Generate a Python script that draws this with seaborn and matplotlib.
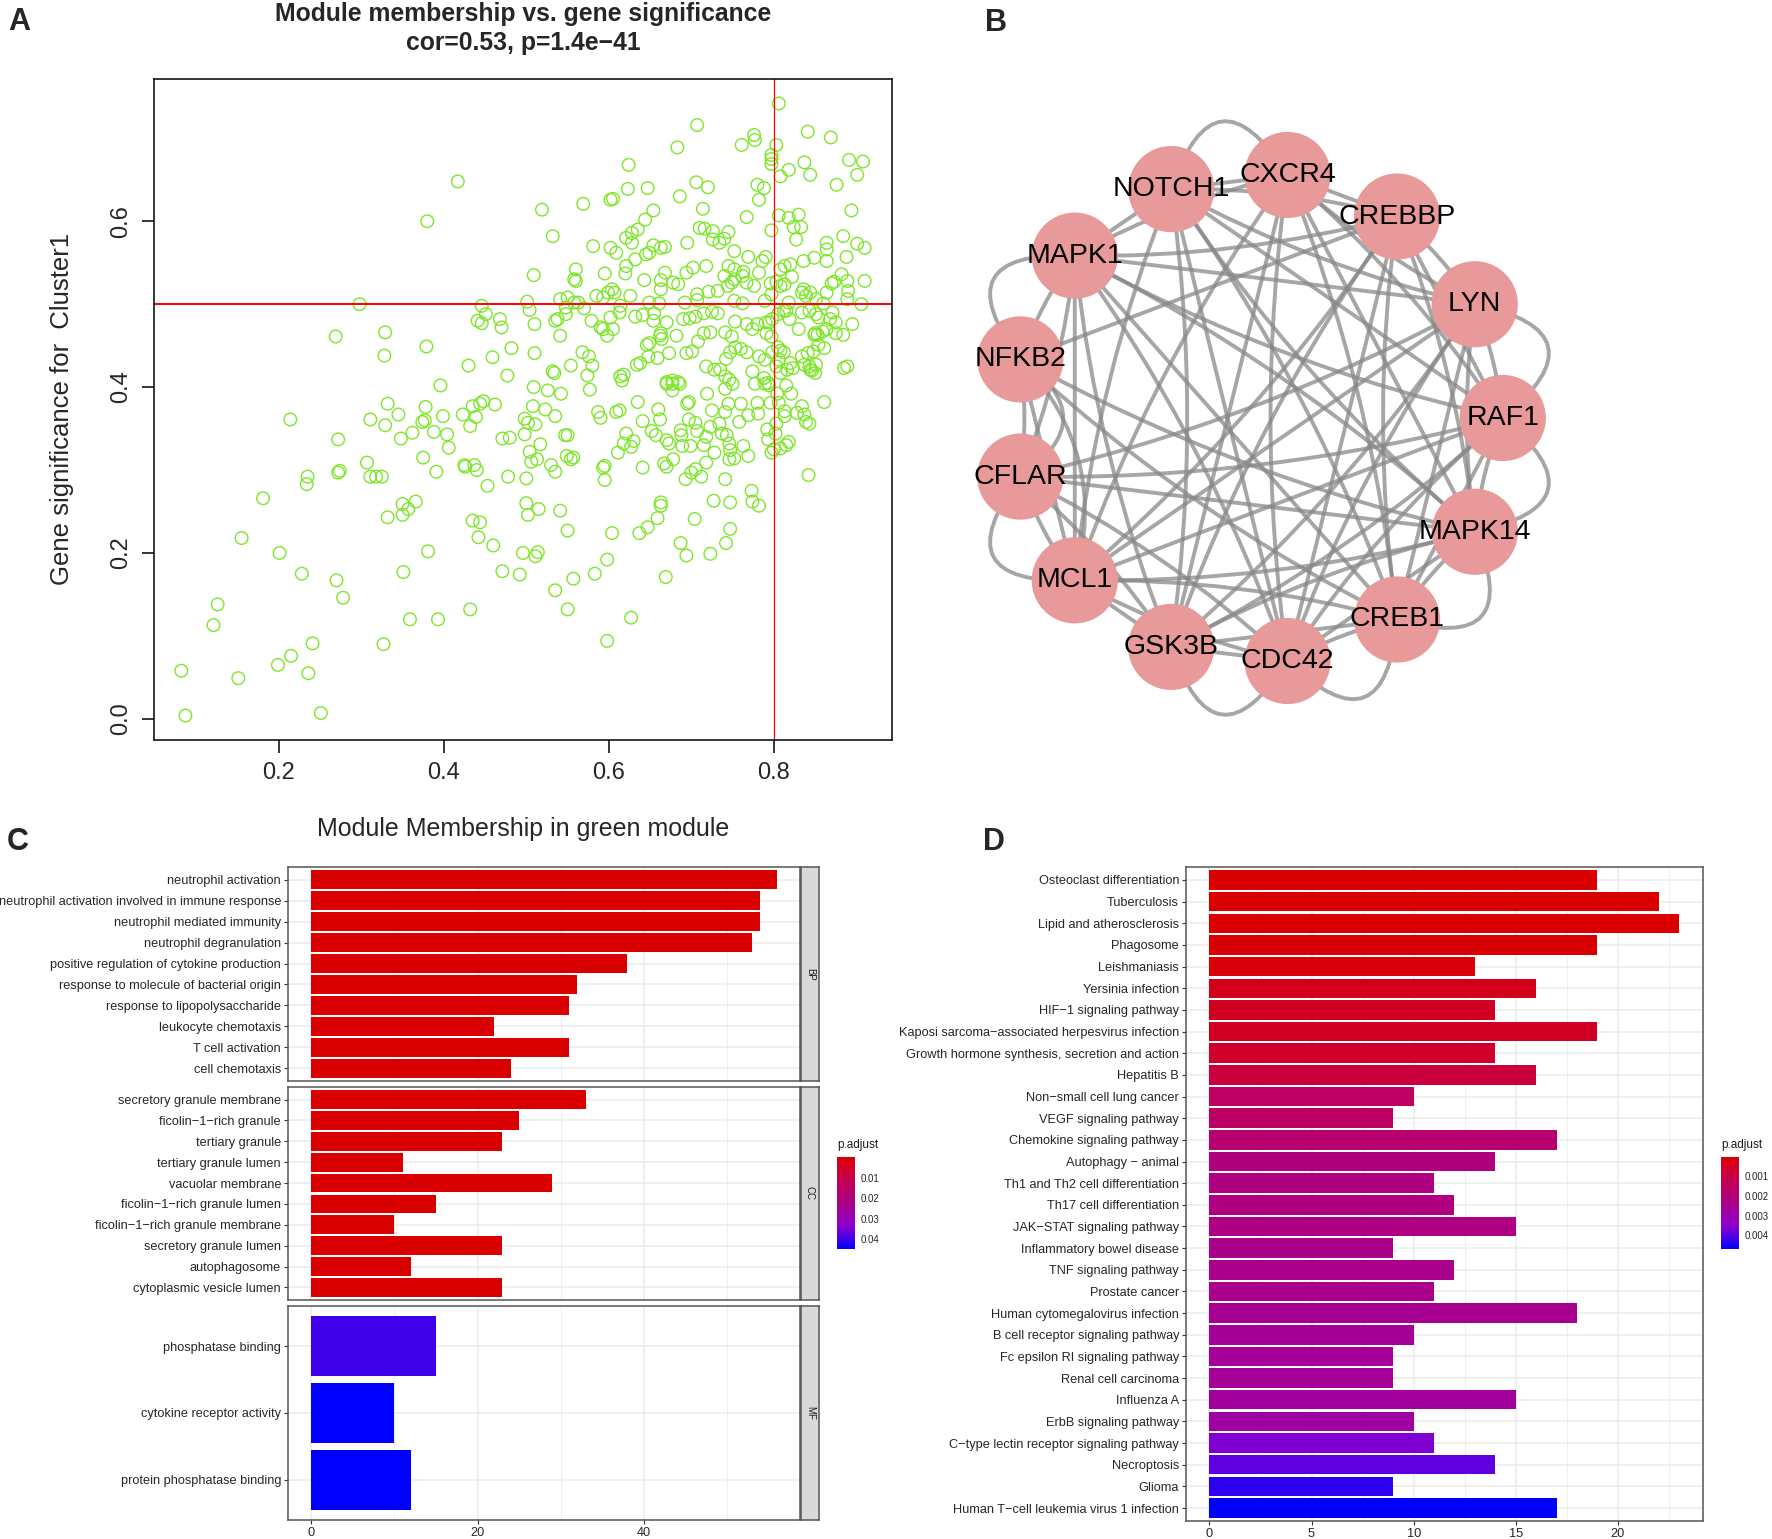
import numpy as np
import pandas as pd
import matplotlib
matplotlib.use("Agg")
import matplotlib.pyplot as plt
import seaborn as sns
from matplotlib.patches import Circle, PathPatch
from matplotlib.path import Path
from matplotlib.colors import LinearSegmentedColormap, Normalize
from matplotlib.cm import ScalarMappable
from matplotlib.ticker import MultipleLocator

sns.set_theme(style="white")
plt.rcParams['font.family'] = ['Liberation Sans', 'DejaVu Sans']

# ---------------- A: module membership vs gene significance ----------------
pts_low = [
    (0.082, 0.058), (0.087, 0.004), (0.151, 0.049), (0.121, 0.113), (0.126, 0.138), (0.155, 0.218),
    (0.181, 0.266), (0.201, 0.200), (0.199, 0.065), (0.215, 0.076), (0.214, 0.361), (0.228, 0.175),
    (0.241, 0.091), (0.236, 0.055), (0.251, 0.007), (0.235, 0.292), (0.234, 0.283), (0.272, 0.337),
    (0.270, 0.167), (0.278, 0.146), (0.272, 0.297), (0.274, 0.299), (0.307, 0.309), (0.311, 0.361),
    (0.311, 0.292), (0.318, 0.292), (0.325, 0.292), (0.329, 0.354), (0.332, 0.380), (0.332, 0.243),
    (0.327, 0.090), (0.345, 0.367), (0.348, 0.338), (0.350, 0.259), (0.350, 0.246), (0.357, 0.253),
    (0.351, 0.177), (0.359, 0.120), (0.362, 0.345), (0.366, 0.262), (0.374, 0.358), (0.377, 0.360),
    (0.375, 0.315), (0.378, 0.376), (0.381, 0.202), (0.388, 0.346), (0.391, 0.298), (0.393, 0.120),
    (0.396, 0.402), (0.399, 0.365), (0.404, 0.343), (0.406, 0.327), (0.423, 0.367), (0.425, 0.306),
    (0.426, 0.304), (0.432, 0.353), (0.432, 0.132), (0.435, 0.377), (0.439, 0.364), (0.437, 0.306),
    (0.440, 0.300), (0.435, 0.239), (0.444, 0.237), (0.442, 0.219), (0.444, 0.380), (0.448, 0.383),
    (0.453, 0.281), (0.460, 0.209), (0.462, 0.379), (0.471, 0.338), (0.480, 0.339), (0.478, 0.292),
    (0.471, 0.178), (0.492, 0.174), (0.496, 0.200), (0.498, 0.362), (0.498, 0.343), (0.502, 0.357),
    (0.500, 0.290), (0.500, 0.260), (0.502, 0.246), (0.504, 0.322), (0.506, 0.310), (0.509, 0.400),
    (0.508, 0.377), (0.511, 0.355), (0.513, 0.313), (0.511, 0.196), (0.514, 0.201), (0.515, 0.253),
    (0.517, 0.331), (0.523, 0.373), (0.526, 0.396), (0.530, 0.306), (0.535, 0.155), (0.535, 0.365),
    (0.535, 0.298), (0.541, 0.251), (0.542, 0.392), (0.547, 0.342), (0.550, 0.342), (0.549, 0.317),
    (0.554, 0.313), (0.550, 0.227), (0.550, 0.132), (0.557, 0.315), (0.557, 0.169), (0.577, 0.397),
    (0.583, 0.175), (0.587, 0.370), (0.590, 0.363), (0.593, 0.303), (0.595, 0.305), (0.595, 0.288),
    (0.598, 0.192), (0.598, 0.094), (0.604, 0.224), (0.611, 0.321), (0.613, 0.372), (0.609, 0.370),
    (0.616, 0.408), (0.618, 0.332), (0.621, 0.344), (0.627, 0.328), (0.630, 0.335), (0.627, 0.122),
    (0.635, 0.382), (0.637, 0.224), (0.647, 0.231), (0.641, 0.359), (0.641, 0.303), (0.652, 0.347),
    (0.657, 0.342), (0.659, 0.242), (0.660, 0.373), (0.662, 0.361), (0.663, 0.261), (0.663, 0.257),
    (0.667, 0.308), (0.670, 0.304), (0.669, 0.171), (0.670, 0.336), (0.673, 0.332), (0.670, 0.404),
    (0.677, 0.404), (0.686, 0.404), (0.677, 0.396), (0.678, 0.313), (0.687, 0.348), (0.688, 0.342),
    (0.687, 0.212), (0.689, 0.329), (0.693, 0.289), (0.694, 0.197), (0.695, 0.380), (0.697, 0.382),
    (0.697, 0.361), (0.699, 0.329), (0.700, 0.297), (0.705, 0.301), (0.705, 0.357), (0.707, 0.347),
    (0.704, 0.241), (0.712, 0.292), (0.715, 0.330), (0.718, 0.340), (0.718, 0.309), (0.719, 0.392),
    (0.723, 0.352), (0.723, 0.199), (0.725, 0.372), (0.728, 0.321), (0.727, 0.263), (0.734, 0.356),
    (0.737, 0.344), (0.743, 0.342), (0.741, 0.398), (0.741, 0.289), (0.741, 0.370), (0.742, 0.212),
    (0.745, 0.380), (0.746, 0.332), (0.747, 0.324), (0.746, 0.313), (0.752, 0.314), (0.747, 0.261),
    (0.747, 0.229), (0.750, 0.404), (0.758, 0.358), (0.760, 0.380), (0.763, 0.329), (0.769, 0.317),
    (0.769, 0.366), (0.773, 0.275), (0.774, 0.262), (0.777, 0.404), (0.780, 0.381), (0.781, 0.368),
    (0.782, 0.257), (0.789, 0.404), (0.792, 0.349), (0.793, 0.337), (0.796, 0.381), (0.794, 0.402),
    (0.797, 0.321), (0.800, 0.325), (0.802, 0.344), (0.804, 0.392), (0.806, 0.381), (0.803, 0.356),
    (0.808, 0.326), (0.813, 0.371), (0.813, 0.365), (0.815, 0.330), (0.818, 0.334), (0.815, 0.402),
    (0.821, 0.392), (0.828, 0.369), (0.834, 0.377), (0.837, 0.367), (0.839, 0.358), (0.843, 0.356),
    (0.842, 0.294), (0.861, 0.382),
]
pts_mid = [
    (0.504, 0.493), (0.510, 0.476), (0.535, 0.480), (0.538, 0.482), (0.548, 0.488), (0.570, 0.495),
    (0.579, 0.480), (0.593, 0.470), (0.590, 0.472), (0.602, 0.484), (0.613, 0.490), (0.632, 0.485),
    (0.641, 0.487), (0.655, 0.489), (0.654, 0.480), (0.670, 0.478), (0.662, 0.462), (0.664, 0.458),
    (0.690, 0.482), (0.698, 0.483), (0.705, 0.485), (0.715, 0.489), (0.725, 0.491), (0.732, 0.489),
    (0.723, 0.466), (0.741, 0.466), (0.749, 0.461), (0.753, 0.479), (0.767, 0.476), (0.774, 0.470),
    (0.780, 0.476), (0.790, 0.478), (0.794, 0.478), (0.798, 0.482), (0.805, 0.488), (0.812, 0.492),
    (0.815, 0.492), (0.791, 0.465), (0.797, 0.461), (0.830, 0.470), (0.819, 0.482), (0.834, 0.490),
    (0.843, 0.492), (0.851, 0.488), (0.854, 0.484), (0.875, 0.478), (0.868, 0.482), (0.871, 0.490),
    (0.850, 0.465), (0.853, 0.463), (0.859, 0.467), (0.864, 0.470), (0.849, 0.463), (0.875, 0.465),
    (0.884, 0.463), (0.895, 0.476), (0.441, 0.480), (0.446, 0.477), (0.451, 0.488), (0.468, 0.482),
    (0.470, 0.472), (0.269, 0.461), (0.329, 0.466), (0.328, 0.438), (0.379, 0.449), (0.430, 0.426),
    (0.459, 0.436), (0.482, 0.447), (0.477, 0.414), (0.510, 0.441), (0.532, 0.419), (0.534, 0.417),
    (0.541, 0.462), (0.554, 0.426), (0.568, 0.442), (0.576, 0.437), (0.580, 0.426), (0.574, 0.414),
    (0.598, 0.462), (0.605, 0.470), (0.614, 0.413), (0.618, 0.415), (0.634, 0.427), (0.638, 0.429),
    (0.646, 0.451), (0.649, 0.453), (0.648, 0.437), (0.659, 0.435), (0.663, 0.465), (0.670, 0.406),
    (0.677, 0.408), (0.684, 0.406), (0.673, 0.441), (0.682, 0.462), (0.694, 0.441), (0.701, 0.443),
    (0.708, 0.455), (0.715, 0.465), (0.718, 0.425), (0.728, 0.421), (0.735, 0.421), (0.742, 0.434),
    (0.747, 0.442), (0.753, 0.448), (0.741, 0.413), (0.746, 0.409), (0.760, 0.446), (0.767, 0.442),
    (0.774, 0.419), (0.782, 0.437), (0.789, 0.433), (0.788, 0.411), (0.793, 0.405), (0.798, 0.442),
    (0.805, 0.448), (0.808, 0.444), (0.812, 0.442), (0.803, 0.425), (0.808, 0.417), (0.806, 0.433),
    (0.816, 0.421), (0.823, 0.423), (0.820, 0.429), (0.834, 0.437), (0.841, 0.441), (0.848, 0.443),
    (0.851, 0.427), (0.844, 0.421), (0.850, 0.417), (0.854, 0.451), (0.861, 0.447), (0.837, 0.427),
    (0.846, 0.420), (0.843, 0.425), (0.885, 0.423), (0.889, 0.425),
]
pts_high = [
    (0.806, 0.742), (0.707, 0.716), (0.841, 0.708), (0.869, 0.701), (0.776, 0.704), (0.777, 0.698),
    (0.761, 0.692), (0.803, 0.692), (0.683, 0.689), (0.797, 0.680), (0.797, 0.675), (0.797, 0.669),
    (0.837, 0.671), (0.891, 0.674), (0.908, 0.672), (0.624, 0.668), (0.818, 0.662), (0.808, 0.654),
    (0.844, 0.656), (0.901, 0.656), (0.417, 0.648), (0.706, 0.647), (0.720, 0.641), (0.780, 0.644),
    (0.788, 0.640), (0.876, 0.644), (0.623, 0.639), (0.647, 0.640), (0.686, 0.630), (0.782, 0.626),
    (0.602, 0.626), (0.605, 0.627), (0.569, 0.621), (0.519, 0.614), (0.654, 0.613), (0.714, 0.615),
    (0.894, 0.613), (0.767, 0.605), (0.806, 0.607), (0.818, 0.604), (0.830, 0.608), (0.380, 0.600),
    (0.644, 0.602), (0.824, 0.593), (0.833, 0.593), (0.710, 0.592), (0.716, 0.591), (0.726, 0.588),
    (0.745, 0.587), (0.621, 0.580), (0.628, 0.586), (0.635, 0.590), (0.797, 0.589), (0.884, 0.582),
    (0.532, 0.582), (0.695, 0.574), (0.726, 0.578), (0.740, 0.579), (0.734, 0.574), (0.581, 0.570),
    (0.602, 0.568), (0.609, 0.562), (0.628, 0.574), (0.654, 0.571), (0.663, 0.568), (0.668, 0.569),
    (0.752, 0.564), (0.864, 0.574), (0.864, 0.566), (0.901, 0.573), (0.910, 0.568), (0.827, 0.578),
    (0.769, 0.557), (0.849, 0.556), (0.888, 0.557), (0.864, 0.552), (0.790, 0.557), (0.786, 0.552),
    (0.836, 0.552), (0.632, 0.554), (0.645, 0.560), (0.649, 0.562), (0.621, 0.546), (0.620, 0.537),
    (0.702, 0.544), (0.718, 0.546), (0.745, 0.546), (0.752, 0.542), (0.808, 0.542), (0.813, 0.546),
    (0.820, 0.548), (0.560, 0.542), (0.668, 0.538), (0.694, 0.538), (0.763, 0.539), (0.595, 0.537),
    (0.509, 0.535), (0.882, 0.536), (0.910, 0.528), (0.889, 0.528), (0.782, 0.538), (0.822, 0.533),
    (0.558, 0.530), (0.560, 0.528), (0.643, 0.529), (0.663, 0.529), (0.678, 0.526), (0.684, 0.524),
    (0.740, 0.534), (0.752, 0.530), (0.749, 0.526), (0.744, 0.522), (0.762, 0.534), (0.767, 0.526),
    (0.776, 0.522), (0.796, 0.525), (0.803, 0.527), (0.870, 0.525), (0.873, 0.527), (0.836, 0.518),
    (0.844, 0.514), (0.864, 0.514), (0.890, 0.516), (0.604, 0.518), (0.599, 0.514), (0.607, 0.514),
    (0.585, 0.510), (0.626, 0.510), (0.593, 0.508), (0.663, 0.518), (0.721, 0.515), (0.732, 0.516),
    (0.707, 0.512), (0.692, 0.502), (0.707, 0.505), (0.797, 0.512), (0.808, 0.522), (0.813, 0.524),
    (0.834, 0.514), (0.839, 0.510), (0.851, 0.506), (0.889, 0.506), (0.906, 0.500), (0.541, 0.506),
    (0.550, 0.508), (0.558, 0.502), (0.563, 0.502), (0.548, 0.496), (0.501, 0.503), (0.446, 0.498),
    (0.298, 0.500), (0.649, 0.502), (0.661, 0.501), (0.614, 0.498), (0.752, 0.504), (0.762, 0.501),
    (0.789, 0.504), (0.818, 0.502), (0.860, 0.501),
]

# ---------------- B: PPI network ----------------
genes = ["RAF1", "LYN", "CREBBP", "CXCR4", "NOTCH1", "MAPK1", "NFKB2",
         "CFLAR", "MCL1", "GSK3B", "CDC42", "CREB1", "MAPK14"]
edges = [
    ("MAPK1", "NOTCH1"), ("MAPK1", "CXCR4"), ("MAPK1", "CREBBP"), ("MAPK1", "LYN"), ("MAPK1", "RAF1"),
    ("MAPK1", "MAPK14"), ("MAPK1", "CREB1"), ("MAPK1", "CDC42"), ("MAPK1", "GSK3B"), ("MAPK1", "MCL1"),
    ("MAPK1", "NFKB2"), ("MAPK1", "CFLAR"),
    ("NOTCH1", "CXCR4"), ("NOTCH1", "CREBBP"), ("NOTCH1", "LYN"), ("NOTCH1", "RAF1"), ("NOTCH1", "MAPK14"),
    ("NOTCH1", "CREB1"), ("NOTCH1", "CDC42"), ("NOTCH1", "GSK3B"), ("NOTCH1", "MCL1"),
    ("CXCR4", "CREBBP"), ("CXCR4", "LYN"), ("CXCR4", "RAF1"), ("CXCR4", "MAPK14"), ("CXCR4", "CREB1"),
    ("CXCR4", "CDC42"), ("CXCR4", "GSK3B"), ("CXCR4", "MCL1"),
    ("CREBBP", "LYN"), ("CREBBP", "RAF1"), ("CREBBP", "MAPK14"), ("CREBBP", "CREB1"), ("CREBBP", "CDC42"),
    ("CREBBP", "GSK3B"), ("CREBBP", "MCL1"), ("CREBBP", "NFKB2"),
    ("LYN", "RAF1"), ("LYN", "MAPK14"), ("LYN", "CREB1"), ("LYN", "CDC42"), ("LYN", "GSK3B"), ("LYN", "MCL1"),
    ("LYN", "CFLAR"),
    ("RAF1", "MAPK14"), ("RAF1", "CREB1"), ("RAF1", "CDC42"), ("RAF1", "GSK3B"), ("RAF1", "MCL1"),
    ("RAF1", "CFLAR"),
    ("MAPK14", "CREB1"), ("MAPK14", "CDC42"), ("MAPK14", "GSK3B"), ("MAPK14", "MCL1"), ("MAPK14", "CFLAR"),
    ("MAPK14", "NFKB2"),
    ("CREB1", "CDC42"), ("CREB1", "GSK3B"), ("CREB1", "MCL1"), ("CREB1", "NFKB2"),
    ("CDC42", "GSK3B"), ("CDC42", "MCL1"), ("CDC42", "CFLAR"), ("GSK3B", "MCL1"), ("GSK3B", "CFLAR"),
    ("MCL1", "CFLAR"), ("MCL1", "NFKB2"), ("NFKB2", "CFLAR"),
]
arcs_out = [("NOTCH1", "CXCR4"), ("MAPK1", "NFKB2"), ("CFLAR", "MCL1"), ("LYN", "RAF1"),
            ("RAF1", "MAPK14"), ("MAPK14", "CREB1"), ("GSK3B", "CDC42"), ("CDC42", "CREB1")]
arcs_in = [("NFKB2", "CFLAR"), ("NFKB2", "MCL1")]

# ---------------- C: GO enrichment ----------------
bp_terms = ["neutrophil activation", "neutrophil activation involved in immune response",
            "neutrophil mediated immunity", "neutrophil degranulation",
            "positive regulation of cytokine production", "response to molecule of bacterial origin",
            "response to lipopolysaccharide", "leukocyte chemotaxis", "T cell activation", "cell chemotaxis"]
bp_count = [56, 54, 54, 53, 38, 32, 31, 22, 31, 24]
bp_padj = [2e-9, 3e-9, 3e-9, 3.5e-9, 1.5e-8, 4e-8, 5e-8, 6e-7, 8e-7, 9e-7]
cc_terms = ["secretory granule membrane", "ficolin\u22121\u2212rich granule", "tertiary granule",
            "tertiary granule lumen", "vacuolar membrane", "ficolin\u22121\u2212rich granule lumen",
            "ficolin\u22121\u2212rich granule membrane", "secretory granule lumen", "autophagosome",
            "cytoplasmic vesicle lumen"]
cc_count = [33, 25, 23, 11, 29, 15, 10, 23, 12, 23]
cc_padj = [1e-6, 2e-6, 5e-6, 1e-5, 2e-5, 4e-5, 6e-5, 8e-5, 1e-4, 2e-4]
mf_terms = ["phosphatase binding", "cytokine receptor activity", "protein phosphatase binding"]
mf_count = [15, 10, 12]
mf_padj = [0.0398, 0.0448, 0.0447]

# ---------------- D: KEGG enrichment ----------------
kegg_terms = ["Osteoclast differentiation", "Tuberculosis", "Lipid and atherosclerosis", "Phagosome",
              "Leishmaniasis", "Yersinia infection", "HIF\u22121 signaling pathway",
              "Kaposi sarcoma\u2212associated herpesvirus infection",
              "Growth hormone synthesis, secretion and action", "Hepatitis B",
              "Non\u2212small cell lung cancer", "VEGF signaling pathway", "Chemokine signaling pathway",
              "Autophagy \u2212 animal", "Th1 and Th2 cell differentiation", "Th17 cell differentiation",
              "JAK\u2212STAT signaling pathway", "Inflammatory bowel disease", "TNF signaling pathway",
              "Prostate cancer", "Human cytomegalovirus infection", "B cell receptor signaling pathway",
              "Fc epsilon RI signaling pathway", "Renal cell carcinoma", "Influenza A",
              "ErbB signaling pathway", "C\u2212type lectin receptor signaling pathway", "Necroptosis",
              "Glioma", "Human T\u2212cell leukemia virus 1 infection"]
kegg_count = [19, 22, 23, 19, 13, 16, 14, 19, 14, 16, 10, 9, 17, 14, 11, 12, 15, 9, 12, 11,
              18, 10, 9, 9, 15, 10, 11, 14, 9, 17]
kegg_padj = [0.00001, 0.00002, 0.00003, 0.00005, 0.00014, 0.0004, 0.0005, 0.00055, 0.00065, 0.0009,
             0.00155, 0.0016, 0.0018, 0.0021, 0.0022, 0.0022, 0.00225, 0.00235, 0.0024, 0.0024,
             0.0025, 0.0026, 0.0026, 0.0026, 0.0027, 0.0028, 0.00365, 0.0039, 0.0043, 0.0047]

# ---------------------------------------------------------------------------
W, H = 1772, 1539
fig = plt.figure(figsize=(W / 100, H / 100), dpi=100)


def box(left, top, right, bottom):
    return [left / W, 1 - bottom / H, (right - left) / W, (bottom - top) / H]


def ftext(x, y, s, **kw):
    fig.text(x / W, 1 - y / H, s, **kw)


# panel A
ax_a = fig.add_axes(box(154, 79, 892, 740))
sc = pd.DataFrame(pts_low + pts_mid + pts_high, columns=["mm", "gs"])
sns.scatterplot(data=sc, x="mm", y="gs", ax=ax_a, marker="o", s=82,
                facecolors="none", edgecolor="#7EE62A", linewidth=1.0)
xr = sc.mm.max() - sc.mm.min()
yr = sc.gs.max() - sc.gs.min()
ax_a.set_xlim(sc.mm.min() - 0.04 * xr, sc.mm.max() + 0.04 * xr)
ax_a.set_ylim(sc.gs.min() - 0.04 * yr, sc.gs.max() + 0.04 * yr)
ax_a.axvline(0.8, color="red", lw=0.9)
ax_a.axhline(0.5, color="red", lw=1.4)
ax_a.set_xticks([0.2, 0.4, 0.6, 0.8])
ax_a.set_yticks([0.0, 0.2, 0.4, 0.6])
ax_a.set_yticklabels(["0.0", "0.2", "0.4", "0.6"], rotation=90, va="center")
ax_a.tick_params(length=9, width=1.1, labelsize=17, pad=7, direction="out",
                 color="black", bottom=True, left=True)
ax_a.set_xlabel("")
ax_a.set_ylabel("")
for sp in ax_a.spines.values():
    sp.set_color("black")
    sp.set_linewidth(1.1)
ftext(523, 14, "Module membership vs. gene significance", ha="center", va="center",
      fontsize=17.8, fontweight="bold")
ftext(523, 43, "cor=0.53, p=1.4e\u221241", ha="center", va="center", fontsize=17.8, fontweight="bold")
ftext(523, 829, "Module Membership in green module", ha="center", va="center", fontsize=18)
ftext(62, 409, "Gene significance for  Cluster1", ha="center", va="center", fontsize=18.5, rotation=90)

# panel B
ax_b = fig.add_axes(box(952, 112, 1564, 724))
ax_b.set_xlim(-1.25, 1.25)
ax_b.set_ylim(-1.25, 1.25)
ax_b.axis("off")
angles = 2 * np.pi * np.arange(len(genes)) / len(genes)
pos = {g: np.array([np.cos(a), np.sin(a)]) for g, a in zip(genes, angles)}
edge_kw = dict(fill=False, edgecolor="#888888", alpha=0.75, lw=2.8, zorder=1)


def curve(p0, p2, ctrl):
    path = Path([p0, ctrl, p2], [Path.MOVETO, Path.CURVE3, Path.CURVE3])
    ax_b.add_patch(PathPatch(path, **edge_kw))


for i, (a, b) in enumerate(edges):
    p0, p2 = pos[a], pos[b]
    mid = (p0 + p2) / 2
    d = p2 - p0
    perp = np.array([-d[1], d[0]])
    bend = 0.07 * (1 if i % 2 else -1) * (i % 3 != 0)
    curve(p0, p2, mid + bend * perp)
for a, b in arcs_out:
    mid = (pos[a] + pos[b]) / 2
    curve(pos[a], pos[b], mid / np.linalg.norm(mid) * 1.47)
for a, b in arcs_in:
    mid = (pos[a] + pos[b]) / 2
    curve(pos[a], pos[b], mid / np.linalg.norm(mid) * 0.62)
for g in genes:
    ax_b.add_patch(Circle(pos[g], 0.176, facecolor="#E8999A", edgecolor="none", zorder=2))
    ax_b.text(*pos[g], g, ha="center", va="center", fontsize=20.5, color="black", zorder=3)

# colour scale for p.adjust (red -> blue)
padj_cmap = LinearSegmentedColormap.from_list(
    "padj", [(0, "#DA0000"), (0.25, "#C50050"), (0.5, "#AB0088"), (0.75, "#8D00CE"), (1, "#0000FF")])

GRID = "#EBEBEB"
BORDER = "#555555"


def bar_panel(ax, terms, counts, padj, norm, xlim, major, minor, show_x):
    df = pd.DataFrame({"term": terms, "count": counts, "padj": padj})
    pal = {t: padj_cmap(norm(p)) for t, p in zip(terms, padj)}
    sns.barplot(data=df, x="count", y="term", hue="term", palette=pal, orient="h",
                width=0.9, saturation=1, legend=False, ax=ax, edgecolor="none")
    ax.set_xlim(*xlim)
    ax.set_ylim(len(terms) - 0.4, -0.6)
    ax.xaxis.set_major_locator(MultipleLocator(major))
    ax.xaxis.set_minor_locator(MultipleLocator(minor))
    ax.set_axisbelow(True)
    ax.grid(which="major", color=GRID, lw=1.1)
    ax.grid(which="minor", axis="x", color=GRID, lw=0.6)
    ax.set_xlabel("")
    ax.set_ylabel("")
    ax.tick_params(axis="y", left=True, length=3, width=0.8, color="#333333",
                   labelsize=9.2, labelcolor="#262626", pad=2)
    ax.tick_params(axis="x", which="major", bottom=show_x, labelbottom=show_x, length=3,
                   width=0.8, color="#333333", labelsize=9.2, labelcolor="#262626", pad=2)
    ax.tick_params(axis="x", which="minor", bottom=False)
    for sp in ax.spines.values():
        sp.set_color(BORDER)
        sp.set_linewidth(1.1)


def strip(top, bottom, label):
    sax = fig.add_axes(box(800.7, top, 819, bottom))
    sax.set_facecolor("#D9D9D9")
    sax.set_xticks([])
    sax.set_yticks([])
    for sp in sax.spines.values():
        sp.set_color(BORDER)
        sp.set_linewidth(1.1)
    sax.text(0.5, 0.5, label, rotation=-90, ha="center", va="center", fontsize=7,
             color="#1A1A1A", transform=sax.transAxes)


def colorbar(left, norm, ticks, labels):
    cax = fig.add_axes(box(left, 1157, left + 18, 1249))
    cb = fig.colorbar(ScalarMappable(norm=norm, cmap=padj_cmap), cax=cax)
    cb.outline.set_visible(False)
    cax.invert_yaxis()
    cb.set_ticks(ticks)
    cb.set_ticklabels(labels)
    cax.minorticks_off()
    cax.tick_params(direction="in", length=3.5, width=0.8, color="white", left=True, right=True,
                    labelleft=False, labelright=True, labelsize=7, labelcolor="#262626", pad=4)
    ftext(left, 1145, "p.adjust", ha="left", va="center", fontsize=8.5, color="#1A1A1A")


go_all = bp_padj + cc_padj + mf_padj
go_norm = Normalize(min(go_all), max(go_all))
c_xlim = (-2.8, 58.8)
facets = [("BP", bp_terms, bp_count, bp_padj, 867, 1081),
          ("CC", cc_terms, cc_count, cc_padj, 1087, 1300),
          ("MF", mf_terms, mf_count, mf_padj, 1306, 1520)]
for lab, terms, counts, padj, top, bottom in facets:
    ax = fig.add_axes(box(288, top, 800, bottom))
    bar_panel(ax, terms, counts, padj, go_norm, c_xlim, 20, 10, lab == "MF")
    strip(top, bottom, lab)
colorbar(837, go_norm, [0.01, 0.02, 0.03, 0.04], ["0.01", "0.02", "0.03", "0.04"])

# panel D
kegg_norm = Normalize(min(kegg_padj), max(kegg_padj))
ax_d = fig.add_axes(box(1186, 867, 1702.5, 1521))
bar_panel(ax_d, kegg_terms, kegg_count, kegg_padj, kegg_norm, (-1.15, 24.15), 5, 2.5, True)
colorbar(1721, kegg_norm, [0.001, 0.002, 0.003, 0.004], ["0.001", "0.002", "0.003", "0.004"])

# panel letters
for letter, x, y in [("A", 19, 22), ("B", 996, 23), ("C", 18, 842), ("D", 994, 842)]:
    ftext(x, y, letter, ha="center", va="center", fontsize=22, fontweight="bold")

fig.savefig("out.png", dpi=100)
